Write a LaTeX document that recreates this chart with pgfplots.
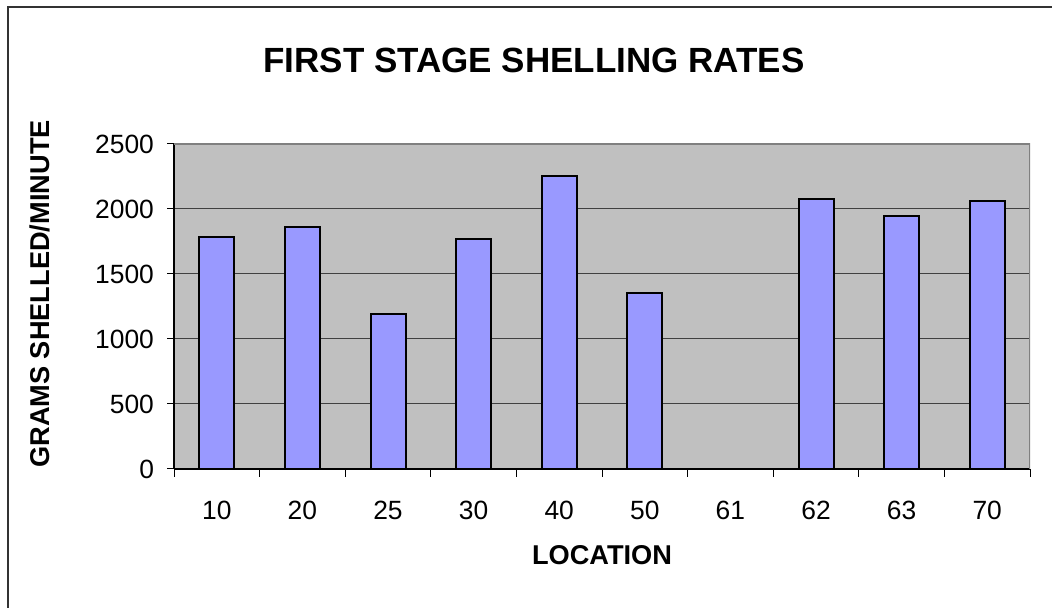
\documentclass[border=0pt]{standalone}
\usepackage{pgfplots}
\pgfplotsset{compat=1.18}
\usepackage{fontspec}
\setmainfont{Liberation Sans}
\definecolor{barfill}{HTML}{9999FF}
\definecolor{plotbg}{HTML}{C0C0C0}
\begin{document}
\begin{tikzpicture}
\useasboundingbox (0,0) rectangle (526pt,304pt);
\draw[line width=1pt, draw=black!80] (4pt,-5pt) -- (4pt,300.5pt) -- (530pt,300.5pt);
\node[font=\bfseries\fontsize{17.5}{20}\selectfont] at (267pt,274pt) {FIRST STAGE SHELLING RATES};
\node[font=\bfseries\fontsize{13.6}{15}\selectfont, rotate=90] at (20pt,157pt) {GRAMS SHELLED/MINUTE};
\node[font=\bfseries\fontsize{13.6}{15}\selectfont] at (301pt,26.5pt) {LOCATION};
\begin{axis}[
  at={(87pt,69.5pt)}, anchor=south west,
  width=428pt, height=162.5pt, scale only axis,
  xmin=-0.5, xmax=9.5, ymin=0, ymax=2500,
  axis background/.style={fill=plotbg},
  axis x line=bottom, axis y line=left,
  axis line style={-, black, line width=0.6pt},
  xtick={0,...,9},
  xticklabels={10,20,25,30,40,50,61,62,63,70},
  minor xtick={-0.5,0.5,...,9.5},
  major x tick style={draw=none},
  minor x tick style={black, line width=0.5pt},
  minor tick length=4pt,
  ytick={0,500,...,2500},
  major tick length=3.5pt,
  y tick style={black, line width=0.5pt},
  tick align=outside,
  ymajorgrids, grid style={black!75, line width=0.5pt},
  ticklabel style={font=\fontsize{13.2}{15}\selectfont},
  /pgf/number format/assume math mode=true,
  yticklabel style={/pgf/number format/1000 sep={}, xshift=-3pt},
  xticklabel style={yshift=-9pt},
  ybar, bar width=17.5pt,
]
\addplot[fill=barfill, draw=black, line width=1pt] coordinates {
(0,1787) (1,1859) (2,1190) (3,1769) (4,2256) (5,1351) (7,2079) (8,1946) (9,2062)
};
\draw[gray, line width=1pt] (rel axis cs:0,1) -- (rel axis cs:1,1) -- (rel axis cs:1,0);
\end{axis}
\end{tikzpicture}
\end{document}
